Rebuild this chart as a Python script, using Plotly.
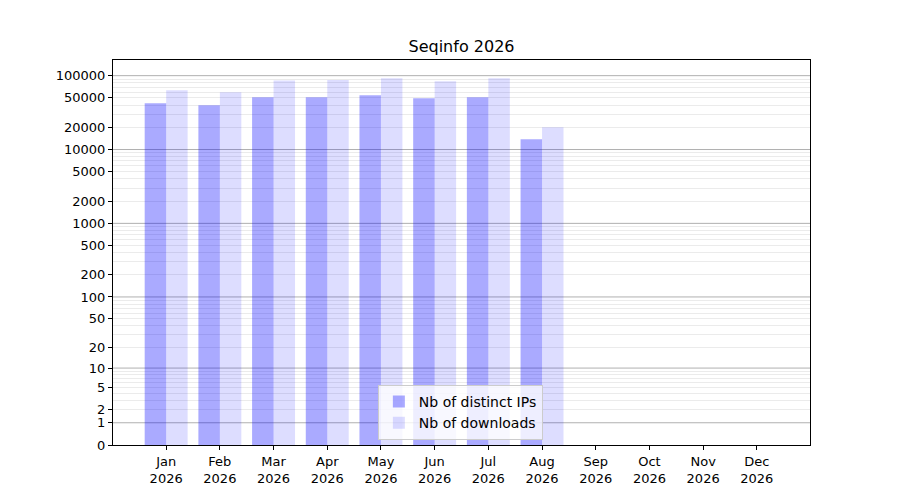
import math
import plotly.graph_objects as go

months = ["Jan", "Feb", "Mar", "Apr", "May", "Jun", "Jul", "Aug", "Sep", "Oct", "Nov", "Dec"]
year = "2026"
distinct_ips = [42200, 39700, 50900, 50900, 54200, 49300, 50900, 13800, 0, 0, 0, 0]
downloads = [63300, 59500, 86300, 87300, 92000, 83800, 92000, 20000, 0, 0, 0, 0]
y_tick_values = [0, 1, 2, 5, 10, 20, 50, 100, 200, 500, 1000, 2000, 5000, 10000, 20000, 50000, 100000]
major_grid_values = [1, 10, 100, 1000, 10000, 100000]
minor_grid_values = [m * 10 ** k for k in range(0, 6) for m in range(2, 10)]


def tf(v):
    return math.log10(1 + v)


x = list(range(len(months)))
ticktext = [f"{m}<br>{year}" for m in months]

fig = go.Figure()
fig.add_trace(go.Bar(x=x, y=[tf(v) for v in distinct_ips], name="Nb of distinct IPs",
                     marker=dict(color="rgba(0,0,255,0.333)", line=dict(width=0)),
                     hovertext=[str(v) for v in distinct_ips]))
fig.add_trace(go.Bar(x=x, y=[tf(v) for v in downloads], name="Nb of downloads",
                     marker=dict(color="rgba(0,0,255,0.133)", line=dict(width=0)),
                     hovertext=[str(v) for v in downloads]))

ymax = max(tf(v) for v in distinct_ips + downloads)
shapes = [dict(type="line", xref="paper", yref="y", x0=0, x1=1, y0=tf(v), y1=tf(v),
               line=dict(color="#b0b0b0", width=1), layer="below") for v in major_grid_values]

fig.update_layout(
    width=900, height=500,
    paper_bgcolor="white", plot_bgcolor="white",
    margin=dict(l=105, r=98, t=52, b=63),
    font=dict(family="DejaVu Sans", size=13, color="black"),
    title=dict(text="Seqinfo 2026", x=((113 + 810) / 2 - 8) / 900, xanchor="center",
               y=1 - (46 - 8) / 500, yanchor="middle", yref="container",
               font=dict(size=16, color="black")),
    barmode="group", bargap=0.2, bargroupgap=0,
    showlegend=True,
    legend=dict(x=0.38, y=0.013, xanchor="left", yanchor="bottom",
                bgcolor="rgba(255,255,255,0.8)", bordercolor="#cccccc", borderwidth=1,
                font=dict(size=14), tracegroupgap=0, itemwidth=30),
    shapes=shapes,
    xaxis=dict(range=[-0.99, 11.99], tickvals=x, ticktext=ticktext, showgrid=False,
               zeroline=False, showline=True, linecolor="black", linewidth=1, mirror=True,
               ticks="outside", ticklen=4, tickcolor="black"),
    yaxis=dict(range=[0, ymax * 1.05], tickvals=[tf(v) for v in y_tick_values],
               ticktext=[str(v) for v in y_tick_values], showgrid=False, zeroline=False,
               showline=True, linecolor="black", linewidth=1, mirror=True,
               ticks="outside", ticklen=4, tickcolor="black",
               minor=dict(tickvals=[tf(v) for v in minor_grid_values], showgrid=True,
                          gridcolor="#ebebeb", gridwidth=1, ticks="")),
)

fig.write_html("out.html")
